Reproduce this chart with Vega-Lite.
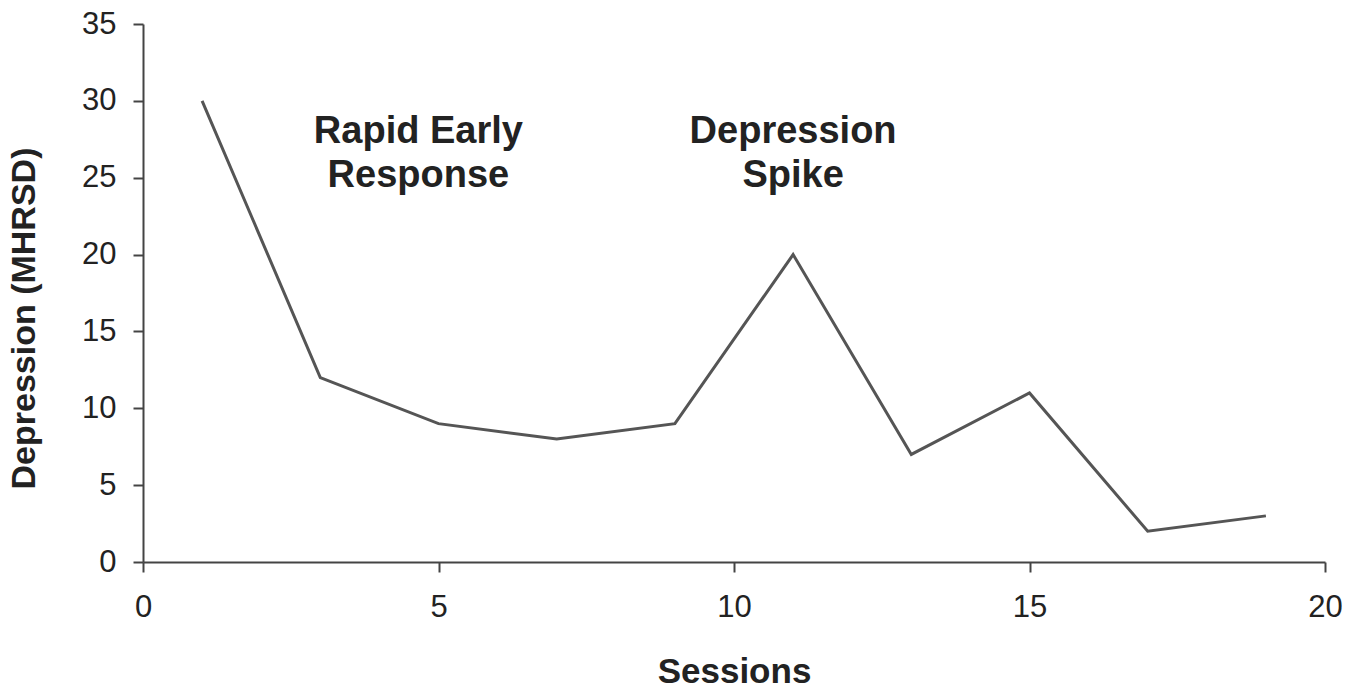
{
  "$schema": "https://vega.github.io/schema/vega-lite/v6.json",
  "width": 1182,
  "height": 538,
  "autosize": "none",
  "padding": {"left": 143, "top": 24, "right": 36, "bottom": 128},
  "background": "white",
  "config": {
    "view": {"stroke": null},
    "font": "Liberation Sans",
    "axis": {
      "grid": false,
      "domainColor": "#444",
      "domainWidth": 2,
      "tickColor": "#444",
      "tickWidth": 2,
      "tickSize": 10,
      "labelFlush": false,
      "labelFont": "Liberation Sans",
      "labelFontSize": 31,
      "labelColor": "#222",
      "titleFont": "Liberation Sans",
      "titleFontWeight": "bold",
      "titleColor": "#222"
    }
  },
  "datasets": {
    "series": [
      {"session": 1, "depression": 30},
      {"session": 3, "depression": 12},
      {"session": 5, "depression": 9},
      {"session": 7, "depression": 8},
      {"session": 9, "depression": 9},
      {"session": 11, "depression": 20},
      {"session": 13, "depression": 7},
      {"session": 15, "depression": 11},
      {"session": 17, "depression": 2},
      {"session": 19, "depression": 3}
    ],
    "notes": [
      {"x": 4.66, "y": 28.0, "label": "Rapid Early"},
      {"x": 4.66, "y": 25.1, "label": "Response"},
      {"x": 11.0, "y": 28.0, "label": "Depression"},
      {"x": 11.0, "y": 25.1, "label": "Spike"}
    ]
  },
  "layer": [
    {
      "data": {"name": "series"},
      "mark": {"type": "line", "color": "#555", "strokeWidth": 3},
      "encoding": {
        "x": {
          "field": "session",
          "type": "quantitative",
          "scale": {"domain": [0, 20], "nice": false},
          "axis": {"values": [0, 5, 10, 15, 20], "format": "d", "title": "Sessions", "titleFontSize": 35, "labelPadding": 20, "titleY": 120, "titleBaseline": "alphabetic"}
        },
        "y": {
          "field": "depression",
          "type": "quantitative",
          "scale": {"domain": [0, 35], "nice": false},
          "axis": {"values": [0, 5, 10, 15, 20, 25, 30, 35], "format": "d", "title": "Depression (MHRSD)", "titleFontSize": 34, "labelPadding": 17, "titleX": -109, "titleY": 294, "titleAngle": -90, "titleAlign": "center", "titleBaseline": "alphabetic"}
        }
      }
    },
    {
      "data": {"name": "notes"},
      "mark": {"type": "text", "font": "Liberation Sans", "fontSize": 38, "fontWeight": "bold", "color": "#222", "align": "center", "baseline": "middle"},
      "encoding": {
        "x": {"field": "x", "type": "quantitative"},
        "y": {"field": "y", "type": "quantitative"},
        "text": {"field": "label"}
      }
    }
  ]
}
